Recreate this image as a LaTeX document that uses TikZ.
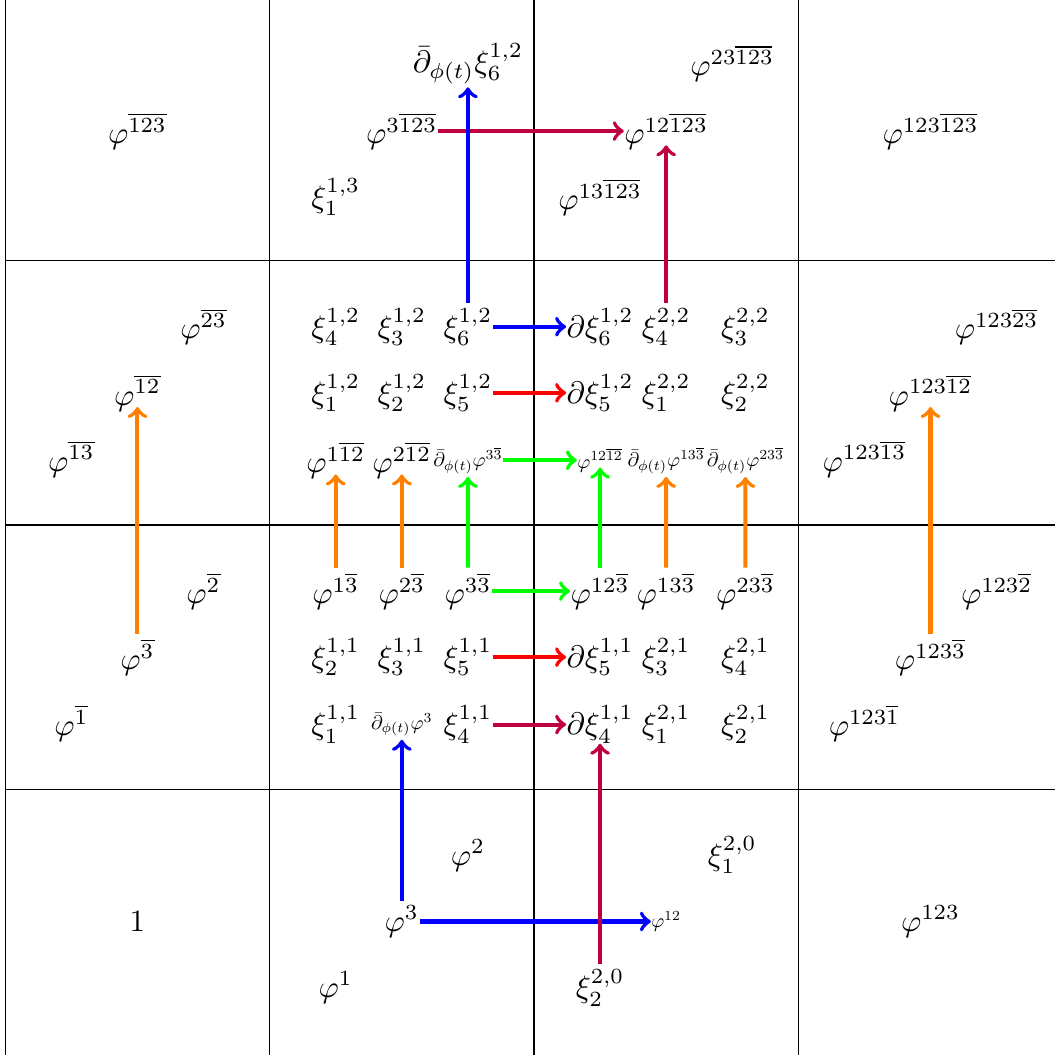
\documentclass[tikz,border=0pt]{standalone}
\usepackage{amsmath,amssymb}
\usepackage{xcolor}
\usepackage{tikz}

\begin{document}
\begin{tikzpicture}[
    x=3cm, y=3cm,
    lab/.style={inner sep=0pt},
    sm/.style={lab, scale=0.64},
    arr/.style={->, line width=1.3pt},
    varr/.style={arr, shorten <=1.5pt},
    tipin/.style={shorten >=-1.5pt},
    tipout/.style={shorten >=1pt}
]
    \useasboundingbox (-0.02,-0.005) rectangle (3.971,3.986);
    % grid
    \foreach \i in {0,1,2,3} \draw (\i,-0.1) -- (\i,4.1);
    \foreach \j in {1,2,3} \draw (0,\j) -- (4.1,\j);

    % bottom row
    \node[lab] (one) at (0.5,0.5) {$1$};
    \node[lab] (p1) at (1.25,0.25) {$\varphi^1$};
    \node[lab] (p3) at (1.5,0.5) {$\varphi^3$};
    \node[lab] (p2) at (1.75,0.75) {$\varphi^2$};
    \node[lab] (x220) at (2.25,0.25) {$\xi^{2,0}_2$};
    \node[sm] (p12) at (2.5,0.5) {$\varphi^{12}$};
    \node[lab] (x120) at (2.75,0.75) {$\xi^{2,0}_1$};
    \node[lab] (p123) at (3.5,0.5) {$\varphi^{123}$};

    % left and right columns
    \node[lab] (pb1) at (0.25,1.25) {$\varphi^{\overline{1}}$};
    \node[lab] (pb3) at (0.5,1.5) {$\varphi^{\overline{3}}$};
    \node[lab] (pb2) at (0.75,1.75) {$\varphi^{\overline{2}}$};
    \node[lab] (pb13) at (0.25,2.25) {$\varphi^{\overline{13}}$};
    \node[lab] (pb12) at (0.5,2.5) {$\varphi^{\overline{12}}$};
    \node[lab] (pb23) at (0.75,2.75) {$\varphi^{\overline{23}}$};
    \node[lab] (q1) at (3.25,1.25) {$\varphi^{123\overline{1}}$};
    \node[lab] (q3) at (3.5,1.5) {$\varphi^{123\overline{3}}$};
    \node[lab] (q2) at (3.75,1.75) {$\varphi^{123\overline{2}}$};
    \node[lab] (q13) at (3.25,2.25) {$\varphi^{123\overline{13}}$};
    \node[lab] (q12) at (3.5,2.5) {$\varphi^{123\overline{12}}$};
    \node[lab] (q23) at (3.75,2.75) {$\varphi^{123\overline{23}}$};

    % top row
    \node[lab] (pb123) at (0.5,3.49) {$\varphi^{\overline{123}}$};
    \node[lab] (x113) at (1.25,3.24) {$\xi^{1,3}_1$};
    \node[lab] (p3b123) at (1.5,3.49) {$\varphi^{3\overline{123}}$};
    \node[lab] (dbx612) at (1.75,3.745) {$\bar\partial_{\phi(t)}\xi^{1,2}_6$};
    \node[lab] (p13b123) at (2.25,3.24) {$\varphi^{13\overline{123}}$};
    \node[lab] (p12b123) at (2.5,3.49) {$\varphi^{12\overline{123}}$};
    \node[lab] (p23b123) at (2.75,3.745) {$\varphi^{23\overline{123}}$};
    \node[lab] (p123b123) at (3.5,3.49) {$\varphi^{123\overline{123}}$};

    % middle block
    \node[lab] (x412) at (1.25,2.75) {$\xi^{1,2}_4$};
    \node[lab] (x312) at (1.5,2.75) {$\xi^{1,2}_3$};
    \node[lab] (x612) at (1.75,2.75) {$\xi^{1,2}_6$};
    \node[lab] (dx612) at (2.25,2.75) {$\partial\xi^{1,2}_6$};
    \node[lab] (x422) at (2.5,2.75) {$\xi^{2,2}_4$};
    \node[lab] (x322) at (2.8,2.75) {$\xi^{2,2}_3$};

    \node[lab] (x112) at (1.25,2.5) {$\xi^{1,2}_1$};
    \node[lab] (x212) at (1.5,2.5) {$\xi^{1,2}_2$};
    \node[lab] (x512) at (1.75,2.5) {$\xi^{1,2}_5$};
    \node[lab] (dx512) at (2.25,2.5) {$\partial\xi^{1,2}_5$};
    \node[lab] (x122) at (2.5,2.5) {$\xi^{2,2}_1$};
    \node[lab] (x222) at (2.8,2.5) {$\xi^{2,2}_2$};

    \node[lab] (p1b12) at (1.25,2.245) {$\varphi^{1\overline{12}}$};
    \node[lab] (p2b12) at (1.5,2.245) {$\varphi^{2\overline{12}}$};
    \node[sm] (dbp3b3) at (1.75,2.245) {$\bar\partial_{\phi(t)}\varphi^{3\overline{3}}$};
    \node[sm] (p12b12) at (2.25,2.245) {$\varphi^{12\overline{12}}$};
    \node[sm] (dbp13b3) at (2.5,2.245) {$\bar\partial_{\phi(t)}\varphi^{13\overline{3}}$};
    \node[sm] (dbp23b3) at (2.8,2.245) {$\bar\partial_{\phi(t)}\varphi^{23\overline{3}}$};

    \node[lab] (p1b3) at (1.25,1.75) {$\varphi^{1\overline{3}}$};
    \node[lab] (p2b3) at (1.5,1.75) {$\varphi^{2\overline{3}}$};
    \node[lab] (p3b3) at (1.75,1.75) {$\varphi^{3\overline{3}}$};
    \node[lab] (p12b3) at (2.25,1.75) {$\varphi^{12\overline{3}}$};
    \node[lab] (p13b3) at (2.5,1.75) {$\varphi^{13\overline{3}}$};
    \node[lab] (p23b3) at (2.8,1.75) {$\varphi^{23\overline{3}}$};

    \node[lab] (x211) at (1.25,1.5) {$\xi^{1,1}_2$};
    \node[lab] (x311) at (1.5,1.5) {$\xi^{1,1}_3$};
    \node[lab] (x511) at (1.75,1.5) {$\xi^{1,1}_5$};
    \node[lab] (dx511) at (2.25,1.5) {$\partial\xi^{1,1}_5$};
    \node[lab] (x321) at (2.5,1.5) {$\xi^{2,1}_3$};
    \node[lab] (x421) at (2.8,1.5) {$\xi^{2,1}_4$};

    \node[lab] (x111) at (1.25,1.245) {$\xi^{1,1}_1$};
    \node[sm] (dbp3) at (1.5,1.245) {$\bar\partial_{\phi(t)}\varphi^3$};
    \node[lab] (x411) at (1.75,1.245) {$\xi^{1,1}_4$};
    \node[lab] (dx411) at (2.25,1.245) {$\partial\xi^{1,1}_4$};
    \node[lab] (x121) at (2.5,1.245) {$\xi^{2,1}_1$};
    \node[lab] (x221) at (2.8,1.245) {$\xi^{2,1}_2$};

    % arrows
    \draw[arr, purple] (p3b123) -- (p12b123);
    \draw[varr, blue, tipout] (x612) -- (dbx612);
    \draw[varr, purple, tipin] (x422) -- (p12b123);
    \draw[arr, blue] (x612) -- (dx612);
    \draw[arr, red] (x512) -- (dx512);
    \draw[arr, green] (dbp3b3) -- (p12b12);
    \draw[varr, orange, tipin] (p1b3) -- (p1b12);
    \draw[varr, orange, tipin] (p2b3) -- (p2b12);
    \draw[varr, green, tipout] (p3b3) -- (dbp3b3);
    \draw[varr, green, tipin] (p12b3) -- (p12b12);
    \draw[varr, orange, tipout] (p13b3) -- (dbp13b3);
    \draw[varr, orange, tipout] (p23b3) -- (dbp23b3);
    \draw[arr, green] (p3b3) -- (p12b3);
    \draw[arr, red] (x511) -- (dx511);
    \draw[arr, purple] (x411) -- (dx411);
    \draw[varr, blue, tipout] (p3) -- (dbp3);
    \draw[arr, blue] (p3) -- (p12);
    \draw[varr, purple] (x220) -- (dx411);
    \draw[varr, orange, tipin] (pb3) -- (pb12);
    \draw[varr, orange, tipin] (q3) -- (q12);
\end{tikzpicture}
\end{document}
